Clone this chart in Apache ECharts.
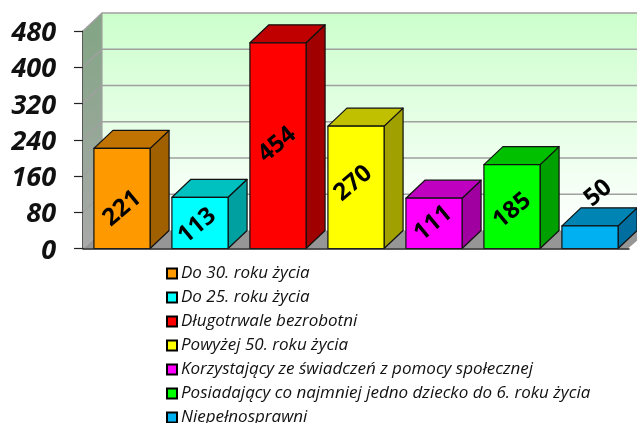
<!DOCTYPE html>
<html><head><meta charset="utf-8">
<style>html,body{margin:0;padding:0;background:#fff;overflow:hidden}#c{width:637px;height:423px}</style>
<script src="https://cdn.jsdelivr.net/npm/echarts@6/dist/echarts.min.js"></script>
</head><body><div id="c"></div>
<script>
const categories = ['Do 30. roku życia','Do 25. roku życia','Długotrwale bezrobotni','Powyżej 50. roku życia','Korzystający ze świadczeń z pomocy społecznej','Posiadający co najmniej jedno dziecko do 6. roku życia','Niepełnosprawni'];
const values = [221,113,454,270,111,185,50];
const yTicks = [0,80,160,240,320,400,480];
const frontColors = ['#ff9900','#00ffff','#ff0000','#ffff00','#ff00ff','#00ff00','#00b0f0'];
const topColors = ['#c07300','#00c0c0','#c00000','#c0c000','#c000c0','#00c000','#0084b4'];
const sideColors = ['#a06000','#00a0a0','#a00000','#a0a000','#a000a0','#00a000','#006f9f'];
const labelShift = [[0,10],[-3,3],[-1,-1],[-3,-4],[-1,0],[0,4],[8,-44]];
const DX = 19, DY = 18;

const chart = echarts.init(document.getElementById('c'));
const wallSeries = {
  type:'custom', name:'wall', silent:true, legendHoverLink:false,
  data:[[0,0]],
  clip:false,
  renderItem(params, api){
    const cs = params.coordSys;
    const L = cs.x, R = cs.x + cs.width + 20, T = api.coord([0,480])[1], B = api.coord([0,0])[1];
    const kids = [];
    kids.push({type:'polygon',shape:{points:[[L,T],[L+DX,T-DY],[L+DX,B-DY],[L,B]]},
      style:{fill:new echarts.graphic.LinearGradient(0,0,0,1,[{offset:0,color:'#82a584'},{offset:1,color:'#a9a9a9'}])}});
    kids.push({type:'rect',shape:{x:L+DX,y:T-DY,width:R-L-DX,height:B-T},
      style:{fill:new echarts.graphic.LinearGradient(0,0,0,1,[{offset:0,color:'#ccffcc'},{offset:1,color:'#ffffff'}])}});
    kids.push({type:'polygon',shape:{points:[[L,B],[L+DX,B-DY],[R,B-DY],[R-DX-2,B]]},style:{fill:'#969696'}});
    yTicks.forEach(v=>{
      const y = api.coord([0,v])[1];
      if(v>0) kids.push({type:'polyline',shape:{points:[[L,y],[L+DX,y-DY],[R,y-DY]]},style:{fill:'none',stroke:'#a0a0a0',lineWidth:1.5}});
    });
    kids.push({type:'line',shape:{x1:L+DX,y1:T-DY,x2:L+DX,y2:B-DY},style:{stroke:'#a0a0a0',lineWidth:1.2}});
    return {type:'group',children:kids};
  }
};
const barSeries = categories.map((name,i)=>({
  type:'custom', name, clip:false,
  itemStyle:{color:frontColors[i],borderColor:'#000',borderWidth:2},
  data:[[i,values[i]]],
  renderItem(params, api){
    const top = api.coord([api.value(0),api.value(1)]);
    const base = api.coord([api.value(0),0]);
    const w = api.size([1,0])[0]*0.72;
    const x0 = top[0]-w/2, x1 = top[0]+w/2, yT = top[1], yB = base[1];
    const st = f=>({fill:f,stroke:'#111',lineWidth:1.2,lineJoin:'round'});
    return {type:'group',children:[
      {type:'polygon',shape:{points:[[x1,yT],[x1+DX,yT-DY],[x1+DX,yB-DY],[x1,yB]]},style:st(sideColors[i])},
      {type:'polygon',shape:{points:[[x0,yT],[x0+DX,yT-DY],[x1+DX,yT-DY],[x1,yT]]},style:st(topColors[i])},
      {type:'rect',shape:{x:x0,y:yT,width:w,height:yB-yT},style:st(frontColors[i])},
      {type:'text',x:top[0]+labelShift[i][0],y:(yT+yB)/2+labelShift[i][1],rotation:40*Math.PI/180,
        style:{text:String(values[i]),fontFamily:'Open Sans',fontWeight:'bold',fontSize:24,fill:'#000',align:'center',verticalAlign:'middle'}}
    ]};
  }
}));
chart.setOption({
  animation:false,
  backgroundColor:'#fff',
  grid:{left:83,right:8,top:31,bottom:174.5,containLabel:false},
  legend:{data:categories,orient:'vertical',left:166,top:265,height:300,itemWidth:10,itemHeight:10,itemGap:7,padding:0,
    icon:'rect',
    selectedMode:false,
    textStyle:{fontFamily:'Open Sans',fontStyle:'italic',fontSize:17,color:'#111',padding:[0,0,0,-1],height:16,lineHeight:16}},
  xAxis:{type:'category',data:categories,axisLabel:{show:false},axisTick:{show:false},
    axisLine:{show:true,lineStyle:{color:'#222',width:1.5}},z:5},
  yAxis:{type:'value',min:0,max:480,interval:80,splitLine:{show:false},
    axisLine:{show:true,lineStyle:{color:'#222',width:1.5}},
    axisTick:{show:true,length:9,lineStyle:{color:'#222',width:1.2}},
    axisLabel:{margin:27,formatter:'{v|{value}}',rich:{v:{padding:[5,0,0,0],fontFamily:'Open Sans',fontStyle:'italic',fontWeight:'bold',fontSize:27,color:'#111'}}}},
  series:[wallSeries].concat(barSeries)
});
</script></body></html>
